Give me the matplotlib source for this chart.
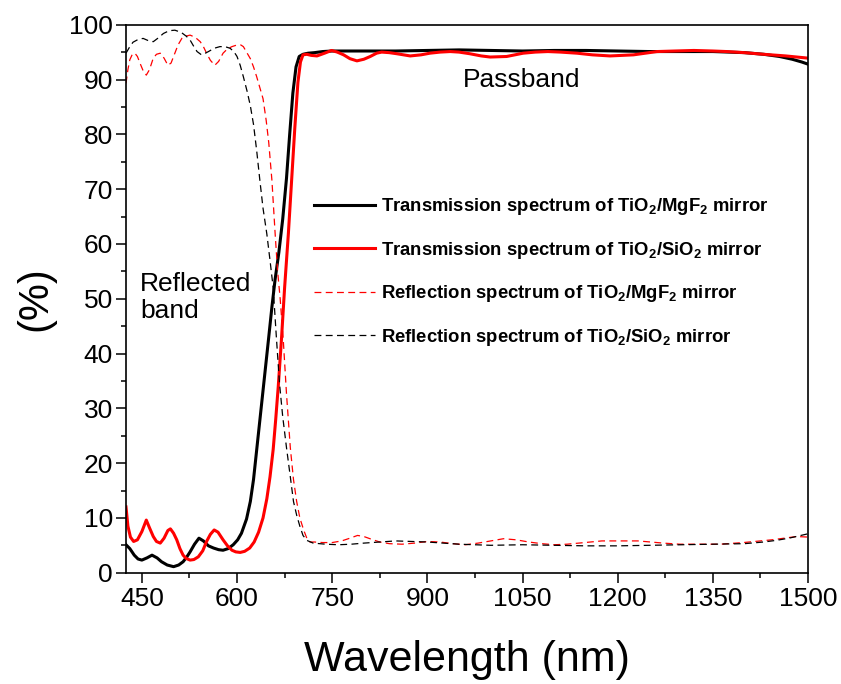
import matplotlib
matplotlib.use("Agg")
import matplotlib.pyplot as plt
from matplotlib.ticker import MultipleLocator

plt.rcParams['font.family'] = ['Liberation Sans', 'DejaVu Sans']
plt.rcParams['mathtext.default'] = 'regular'

# ---- data ----
t_mgf2_x = [425, 431, 438, 444, 450, 458, 466, 474, 481, 490, 500, 508, 515, 521, 526, 533, 540, 547, 555, 563,
            571, 578, 586, 594, 601, 607, 615, 621, 626, 632, 638, 644, 650, 655, 660, 666, 672, 678, 683, 688,
            693, 698, 704, 712, 722, 735, 750, 775, 800, 850, 900, 950, 1000, 1050, 1100, 1150, 1200, 1250, 1300,
            1350, 1400, 1430, 1455, 1475, 1490, 1500]
t_mgf2_y = [5.1, 4.4, 3.2, 2.5, 2.3, 2.7, 3.2, 2.7, 2.0, 1.4, 1.1, 1.4, 2.0, 2.9, 3.8, 5.2, 6.3, 5.8, 4.9, 4.5,
            4.2, 4.1, 4.4, 5.1, 6.0, 7.2, 9.8, 13, 17, 23.5, 30, 36.5, 43, 48.5, 53.5, 58.5, 64.5, 72, 80, 87.5,
            92.3, 94.2, 94.6, 94.8, 94.9, 95.1, 95.2, 95.2, 95.2, 95.2, 95.3, 95.4, 95.3, 95.2, 95.3, 95.3, 95.2,
            95.1, 95.1, 95.1, 94.9, 94.6, 94.2, 93.7, 93.2, 92.8]

t_sio2_x = [425, 428, 432, 437, 443, 450, 457, 462, 468, 473, 479, 485, 491, 495, 500, 505, 510, 515, 520, 526,
            532, 539, 546, 552, 558, 564, 570, 578, 585, 592, 598, 605, 612, 620, 627, 634, 641, 647, 652, 657,
            661, 665, 670, 675, 681, 686, 691, 696, 700, 704, 710, 717, 726, 738, 749, 758, 768, 778, 789, 800,
            810, 820, 828, 840, 852, 873, 890, 904, 920, 936, 950, 967, 985, 999, 1025, 1051, 1070, 1090, 1110,
            1136, 1160, 1188, 1225, 1262, 1290, 1320, 1350, 1372, 1400, 1430, 1465, 1500]
t_sio2_y = [12.0, 8.5, 6.5, 5.7, 6.0, 7.5, 9.6, 8.2, 6.6, 5.7, 5.4, 6.3, 7.7, 8.0, 7.2, 6.0, 4.4, 3.2, 2.6, 2.3,
            2.4, 2.9, 4.0, 5.7, 7.0, 7.8, 7.4, 6.0, 4.9, 4.1, 3.8, 3.7, 3.9, 4.5, 5.6, 7.4, 10, 13.5, 17.5, 22.5,
            28, 34, 42.5, 52, 62, 71.5, 81, 89.5, 93.2, 94.5, 94.6, 94.4, 94.3, 94.8, 95.3, 95.0, 94.5, 93.8, 93.4,
            93.7, 94.2, 94.8, 95.0, 94.9, 94.7, 94.3, 94.5, 94.8, 95.0, 95.1, 95.0, 94.7, 94.3, 94.1, 94.2, 94.8,
            95.0, 95.1, 95.0, 94.8, 94.5, 94.3, 94.5, 95.1, 95.2, 95.3, 95.2, 95.1, 94.9, 94.6, 94.3, 93.9]

r_mgf2_x = [425, 428, 431, 435, 439, 443, 447, 452, 457, 462, 468, 473, 479, 485, 491, 496, 502, 507, 513, 519,
            526, 534, 542, 547, 552, 558, 565, 571, 578, 585, 592, 600, 606, 610, 615, 621, 626, 631, 636, 641,
            646, 650, 655, 660, 664, 668, 673, 678, 684, 689, 694, 699, 705, 710, 715, 722, 735, 750, 765, 778,
            790, 800, 812, 825, 840, 860, 880, 900, 920, 940, 960, 980, 1000, 1020, 1040, 1060, 1080, 1100, 1120,
            1148, 1175, 1193, 1232, 1272, 1298, 1338, 1362, 1398, 1443, 1482, 1500]
r_mgf2_y = [89.3, 91.8, 93.6, 94.6, 94.8, 94.2, 93.0, 91.6, 90.8, 91.8, 93.9, 94.6, 94.8, 93.9, 92.6, 93.0, 94.8,
            96.3, 97.5, 97.9, 98.1, 97.7, 96.9, 96.0, 94.8, 93.5, 92.6, 93.3, 94.8, 95.6, 96.0, 96.3, 96.3, 96.0,
            95.0, 93.8, 92.3, 90.5, 88.5, 86.5, 82.5, 78.5, 71.6, 62, 55, 50, 42.3, 32.6, 22.8, 17, 13.0, 10, 7.8,
            6.3, 5.6, 5.6, 5.5, 5.5, 5.8, 6.3, 6.8, 6.6, 6.1, 5.6, 5.3, 5.2, 5.4, 5.7, 5.6, 5.3, 5.1, 5.4, 5.8,
            6.2, 6.0, 5.6, 5.3, 5.1, 5.2, 5.5, 5.8, 5.8, 5.8, 5.4, 5.2, 5.2, 5.2, 5.5, 6.0, 6.6, 6.5]

r_sio2_x = [425, 430, 436, 444, 452, 460, 468, 476, 484, 493, 502, 512, 520, 526, 531, 537, 544, 550, 555, 564,
            573, 581, 589, 595, 600, 605, 610, 616, 621, 626, 631, 636, 641, 647, 652, 657, 662, 667, 672, 678,
            684, 689, 694, 699, 704, 710, 720, 740, 760, 780, 800, 825, 850, 875, 900, 925, 950, 975, 1000, 1050,
            1100, 1150, 1200, 1250, 1300, 1350, 1400, 1430, 1450, 1470, 1485, 1500]
r_sio2_y = [94.8, 95.8, 96.8, 97.3, 97.5, 97.1, 96.9, 97.6, 98.4, 98.9, 99.0, 98.6, 97.9, 97.2, 96.2, 95.1, 94.5,
            94.8, 95.1, 95.7, 96.0, 96.0, 95.7, 95.1, 94.2, 92.6, 90.5, 87.8, 85.2, 81.8, 77, 71.6, 66.5, 61.8, 57,
            52, 43, 34.5, 28.5, 22.8, 17.5, 13.0, 10.5, 8.5, 6.8, 5.9, 5.4, 5.2, 5.1, 5.2, 5.4, 5.6, 5.8, 5.7, 5.6,
            5.4, 5.2, 5.1, 5.0, 5.1, 5.0, 4.9, 4.9, 5.0, 5.1, 5.2, 5.3, 5.6, 5.9, 6.3, 6.7, 7.1]

labels = ['Transmission spectrum of TiO$_2$/MgF$_2$ mirror',
          'Transmission spectrum of TiO$_2$/SiO$_2$ mirror',
          'Reflection spectrum of TiO$_2$/MgF$_2$ mirror',
          'Reflection spectrum of TiO$_2$/SiO$_2$ mirror']

# ---- figure ----
fig = plt.figure(figsize=(8.41, 6.84), dpi=100)
ax = fig.add_axes([126/841, 1-572.7/684, (808-126)/841, (572.7-24.7)/684])

dash = (0, (5.5, 3.5))
ax.plot(t_mgf2_x, t_mgf2_y, color='black', lw=2.2, label=labels[0])
ax.plot(t_sio2_x, t_sio2_y, color='#ff0000', lw=2.2, label=labels[1])
ax.plot(r_mgf2_x, r_mgf2_y, color='#ff0000', lw=0.9, linestyle=dash, label=labels[2])
ax.plot(r_sio2_x, r_sio2_y, color='black', lw=0.9, linestyle=dash, label=labels[3])

ax.set_xlim(425, 1500)
ax.set_ylim(0, 100)
ax.set_xticks([450, 600, 750, 900, 1050, 1200, 1350, 1500])
ax.xaxis.set_minor_locator(MultipleLocator(75))
ax.yaxis.set_major_locator(MultipleLocator(10))
ax.yaxis.set_minor_locator(MultipleLocator(5))
ax.tick_params(which='major', direction='out', length=7.5, width=1.1, labelsize=19, pad=3)
ax.tick_params(which='minor', direction='out', length=3.8, width=1.1)
ax.tick_params(axis='y', which='major', pad=2)
for s in ax.spines.values():
    s.set_linewidth(1.2)

ax.set_xlabel('Wavelength (nm)', fontsize=31)
ax.xaxis.label.set_va('center')
ax.xaxis.set_label_coords(0.5, (572.7-660)/548)
ax.set_ylabel('(%)', fontsize=30)
ax.yaxis.label.set_va('center')
ax.yaxis.set_label_coords((35-126)/682, 0.5)

ax.text(956, 89.9, 'Passband', fontsize=19, ha='left', va='center')
ax.text(447, 50.2, 'Reflected\nband', fontsize=19, ha='left', va='center', linespacing=1.15)

leg = ax.legend(loc='upper left', bbox_to_anchor=((314-126)/682, (572.7-196)/548), frameon=False,
                prop={'weight': 'bold', 'size': 13.3}, handlelength=3.3, handletextpad=0.35,
                labelspacing=1.22, borderpad=0, borderaxespad=0)

fig.savefig('out.png', dpi=100)
